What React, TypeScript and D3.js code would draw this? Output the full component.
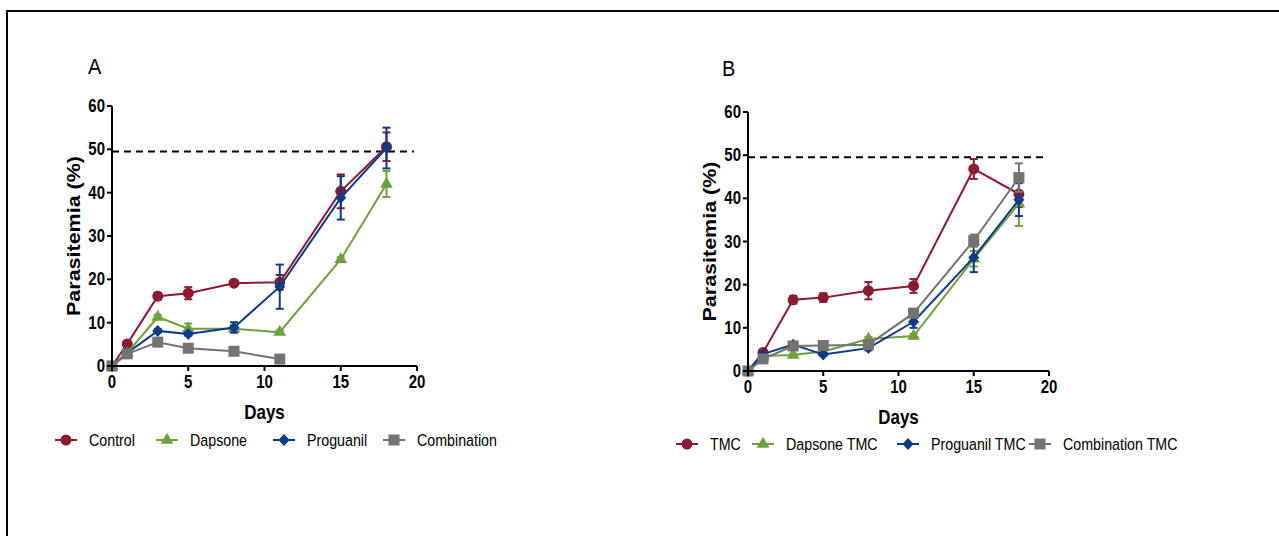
import React from 'react'
import * as d3 from 'd3'

// days sampled
const days = [0, 1, 3, 5, 8, 11, 15, 18]

// panel A – mean parasitemia (%) and error
const controlA = [0, 5.1, 16.1, 16.8, 19.1, 19.3, 40.3, 50.6]
const controlAErr = [0, 0.4, 0.8, 1.4, 0.5, 1.7, 3.9, 3.3]
const dapsoneA = [0, 3.0, 11.3, 8.6, 8.6, 7.8, 24.6, 42.0]
const dapsoneAErr = [0, 0.3, 0.5, 1.2, 0.8, 0.4, 0.5, 3.0]
const proguanilA = [0, 3.0, 8.1, 7.4, 8.9, 18.3, 38.8, 50.3]
const proguanilAErr = [0, 0.3, 0.4, 0.4, 1.2, 5.1, 5.0, 4.7]
const combinationA = [0, 2.8, 5.5, 4.1, 3.4, 1.6, null, null]
const combinationAErr = [0, 0.3, 0.4, 0.4, 0.4, 0.4, null, null]

// panel B – TMC groups
const tmcB = [0, 4.3, 16.5, 17.0, 18.6, 19.7, 46.8, 41.0]
const tmcBErr = [0, 0.3, 0.9, 1.0, 2.0, 1.6, 2.3, 3.0]
const dapsoneB = [0, 3.5, 3.7, 4.5, 7.4, 8.1, 26.0, 38.8]
const dapsoneBErr = [0, 0.3, 0.3, 0.3, 0.5, 0.5, 1.8, 5.2]
const proguanilB = [0, 3.9, 6.1, 3.8, 5.3, 11.4, 26.3, 39.7]
const proguanilBErr = [0, 0.3, 0.5, 0.3, 0.5, 1.4, 3.4, 3.8]
const combinationB = [0, 2.8, 5.8, 5.9, 6.1, 13.4, 30.2, 44.8]
const combinationBErr = [0, 0.3, 0.5, 0.5, 0.5, 0.8, 1.4, 3.3]

const namesA = ['Control', 'Dapsone', 'Proguanil', 'Combination']
const namesB = ['TMC', 'Dapsone TMC', 'Proguanil TMC', 'Combination TMC']

const xTicks = [0, 5, 10, 15, 20]
const yTicks = [0, 10, 20, 30, 40, 50, 60]
const threshold = 49.5

const colors = ['#8b1a32', '#6ea03c', '#0e3b87', '#737373']
const shapes = ['circle', 'triangle', 'diamond', 'square']
const FONT = '"Liberation Sans", Arial, Helvetica, sans-serif'

const Marker = ({ shape, x, y, fill }) => {
  if (shape === 'circle') return <circle cx={x} cy={y} r={5.5} fill={fill} />
  if (shape === 'square') return <rect x={x - 5.5} y={y - 5.5} width={11} height={11} fill={fill} />
  if (shape === 'diamond') return <path d="M0,-6L5.5,0L0,6L-5.5,0Z" transform={`translate(${x},${y})`} fill={fill} />
  return <path d={d3.symbol(d3.symbolTriangle, 70)()} transform={`translate(${x},${y})`} fill={fill} />
}

function Panel({ label, labelPos, box, series, names, legend }) {
  const { left, right, top, bottom } = box
  const x = d3.scaleLinear().domain([0, 20]).range([left, right])
  const y = d3.scaleLinear().domain([0, 60]).range([bottom, top])
  const line = d3.line().defined(d => d[1] != null).x(d => x(d[0])).y(d => y(d[1]))

  return <g fontFamily={FONT}>
    <text transform={`translate(${labelPos[0]},${labelPos[1]}) scale(1,1.1)`} fontSize={20}>{label}</text>

    <line x1={x(0)} x2={x(19.8)} y1={y(threshold)} y2={y(threshold)}
          stroke="black" strokeWidth={2} strokeDasharray="7,5" />

    {series.map(({ values, errors }, i) => {
      const pts = days.map((d, j) => [d, values[j], errors[j]])
      return <g key={i} stroke={colors[i]} fill="none">
        {pts.filter(p => p[1] != null && p[2] > 0).map(([d, v, e], j) =>
          <g key={j} strokeWidth={2}>
            <line x1={x(d)} x2={x(d)} y1={y(v - e)} y2={y(v + e)} />
            <line x1={x(d) - 4} x2={x(d) + 4} y1={y(v - e)} y2={y(v - e)} />
            <line x1={x(d) - 4} x2={x(d) + 4} y1={y(v + e)} y2={y(v + e)} />
          </g>)}
        <path d={line(pts)} strokeWidth={2} />
        <g stroke="none">
          {pts.filter(p => p[1] != null).map(([d, v], j) =>
            <Marker key={j} shape={shapes[i]} x={x(d)} y={y(v)} fill={colors[i]} />)}
        </g>
      </g>
    })}

    {/* axes */}
    <g stroke="black" strokeWidth={2}>
      <line x1={left} x2={left} y1={bottom + 1} y2={top} />
      <line x1={left} x2={right} y1={bottom} y2={bottom} />
      {yTicks.map(t => <line key={t} x1={left - 5} x2={left} y1={y(t)} y2={y(t)} />)}
      {xTicks.map(t => <line key={t} x1={x(t)} x2={x(t)} y1={bottom} y2={bottom + 5} />)}
    </g>
    <g fontSize={15} fontWeight="bold">
      {yTicks.map(t => <text key={t} transform={`translate(${left - 7},${y(t) + 6}) scale(1,1.2)`}
                             textAnchor="end">{t}</text>)}
      {xTicks.map(t => <text key={t} transform={`translate(${x(t)},${bottom + 22}) scale(1,1.2)`}
                             textAnchor="middle">{t}</text>)}
    </g>
    <text transform={`translate(${(left + right) / 2},${bottom + 53}) scale(1,1.2)`} textAnchor="middle"
          fontSize={17} fontWeight="bold">Days</text>
    <text transform={`translate(${left - 32},${(top + bottom) / 2}) rotate(-90)`} textAnchor="middle"
          fontSize={18} fontWeight="bold" textLength={160} lengthAdjust="spacingAndGlyphs">Parasitemia (%)</text>

    {/* legend */}
    <g>
      {names.map((n, i) => {
        const lx = legend.xs[i]
        return <g key={n}>
          <line x1={lx} x2={lx + 22} y1={legend.y} y2={legend.y} stroke={colors[i]} strokeWidth={2} />
          <Marker shape={shapes[i]} x={lx + 11} y={legend.y} fill={colors[i]} />
          <text transform={`translate(${lx + 34},${legend.y + 6}) scale(0.95,1.15)`} fontSize={15}>{n}</text>
        </g>
      })}
    </g>
  </g>
}

export default function App() {
  const seriesA = [
    { values: controlA, errors: controlAErr },
    { values: dapsoneA, errors: dapsoneAErr },
    { values: proguanilA, errors: proguanilAErr },
    { values: combinationA, errors: combinationAErr },
  ]
  const seriesB = [
    { values: tmcB, errors: tmcBErr },
    { values: dapsoneB, errors: dapsoneBErr },
    { values: proguanilB, errors: proguanilBErr },
    { values: combinationB, errors: combinationBErr },
  ]
  return <svg width={1279} height={536} style={{ position: 'absolute', left: 0, top: 0, background: 'white' }}>
    <path d="M7,536 V11 H1279" fill="none" stroke="black" strokeWidth={2} />
    <Panel label="A" labelPos={[88, 74]} box={{ left: 112, right: 417, top: 106, bottom: 366 }}
           series={seriesA} names={namesA} legend={{ y: 440, xs: [55, 156, 273, 383] }} />
    <Panel label="B" labelPos={[722, 76]} box={{ left: 748, right: 1049, top: 112, bottom: 371 }}
           series={seriesB} names={namesB} legend={{ y: 444, xs: [676, 752, 897, 1029] }} />
  </svg>
}
